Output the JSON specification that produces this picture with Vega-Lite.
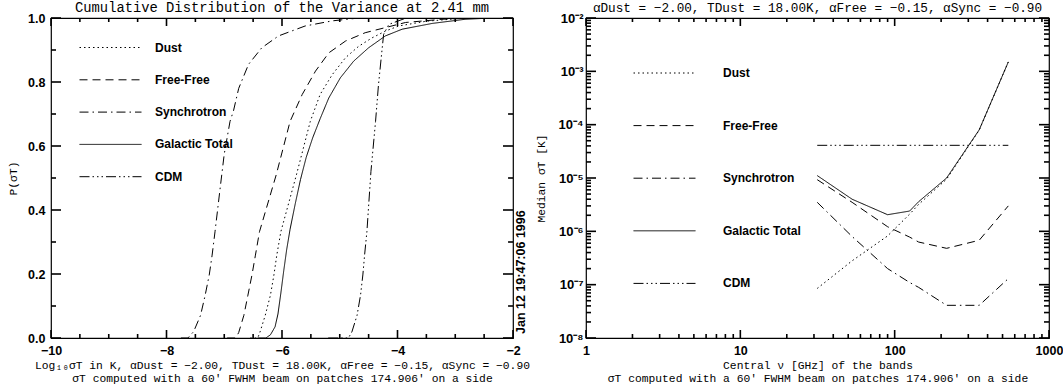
{
  "$schema": "https://vega.github.io/schema/vega-lite/v6.json",
  "padding": {"left": 7, "top": 0, "right": 0, "bottom": 0},
  "background": "white",
  "config": {
    "view": {"stroke": "black", "strokeWidth": 1.2},
    "axis": {
      "domain": false, "ticks": false, "labelColor": "black", "titleColor": "black", "grid": false,
      "labelFont": "Liberation Sans", "labelFontWeight": "bold", "labelFontSize": 12.5,
      "titleFont": "Liberation Mono", "titleFontWeight": "normal", "titleFontSize": 11.3, "titleLineHeight": 12.7
    },
    "title": {"font": "Liberation Mono", "fontWeight": "normal", "color": "black"},
    "rule": {"color": "black", "strokeWidth": 1.6}
  },
  "datasets": {
    "cdf": [
      {"series": "Synchrotron", "logsigma": -7.75, "p": 0},
      {"series": "Synchrotron", "logsigma": -7.63, "p": 0},
      {"series": "Synchrotron", "logsigma": -7.53, "p": 0.02},
      {"series": "Synchrotron", "logsigma": -7.41, "p": 0.071},
      {"series": "Synchrotron", "logsigma": -7.33, "p": 0.134},
      {"series": "Synchrotron", "logsigma": -7.26, "p": 0.197},
      {"series": "Synchrotron", "logsigma": -7.21, "p": 0.259},
      {"series": "Synchrotron", "logsigma": -7.16, "p": 0.332},
      {"series": "Synchrotron", "logsigma": -7.07, "p": 0.47},
      {"series": "Synchrotron", "logsigma": -7.0, "p": 0.575},
      {"series": "Synchrotron", "logsigma": -6.9, "p": 0.677},
      {"series": "Synchrotron", "logsigma": -6.84, "p": 0.71},
      {"series": "Synchrotron", "logsigma": -6.75, "p": 0.78},
      {"series": "Synchrotron", "logsigma": -6.58, "p": 0.855},
      {"series": "Synchrotron", "logsigma": -6.35, "p": 0.907},
      {"series": "Synchrotron", "logsigma": -6.06, "p": 0.944},
      {"series": "Synchrotron", "logsigma": -5.6, "p": 0.975},
      {"series": "Synchrotron", "logsigma": -5.13, "p": 0.991},
      {"series": "Synchrotron", "logsigma": -4.67, "p": 1.0},
      {"series": "Free-Free", "logsigma": -6.95, "p": 0},
      {"series": "Free-Free", "logsigma": -6.8, "p": 0},
      {"series": "Free-Free", "logsigma": -6.75, "p": 0.017},
      {"series": "Free-Free", "logsigma": -6.66, "p": 0.071},
      {"series": "Free-Free", "logsigma": -6.59, "p": 0.134},
      {"series": "Free-Free", "logsigma": -6.52, "p": 0.197},
      {"series": "Free-Free", "logsigma": -6.46, "p": 0.259},
      {"series": "Free-Free", "logsigma": -6.39, "p": 0.332},
      {"series": "Free-Free", "logsigma": -6.1, "p": 0.51},
      {"series": "Free-Free", "logsigma": -5.86, "p": 0.677},
      {"series": "Free-Free", "logsigma": -5.65, "p": 0.761},
      {"series": "Free-Free", "logsigma": -5.42, "p": 0.834},
      {"series": "Free-Free", "logsigma": -5.19, "p": 0.891},
      {"series": "Free-Free", "logsigma": -4.9, "p": 0.928},
      {"series": "Free-Free", "logsigma": -4.56, "p": 0.954},
      {"series": "Free-Free", "logsigma": -4.21, "p": 0.97},
      {"series": "Free-Free", "logsigma": -3.86, "p": 0.986},
      {"series": "Free-Free", "logsigma": -3.23, "p": 0.996},
      {"series": "Free-Free", "logsigma": -2.7, "p": 1.0},
      {"series": "Dust", "logsigma": -6.55, "p": 0},
      {"series": "Dust", "logsigma": -6.42, "p": 0},
      {"series": "Dust", "logsigma": -6.38, "p": 0.019},
      {"series": "Dust", "logsigma": -6.29, "p": 0.071},
      {"series": "Dust", "logsigma": -6.2, "p": 0.134},
      {"series": "Dust", "logsigma": -6.14, "p": 0.197},
      {"series": "Dust", "logsigma": -6.09, "p": 0.259},
      {"series": "Dust", "logsigma": -6.02, "p": 0.332},
      {"series": "Dust", "logsigma": -5.75, "p": 0.51},
      {"series": "Dust", "logsigma": -5.51, "p": 0.677},
      {"series": "Dust", "logsigma": -5.34, "p": 0.761},
      {"series": "Dust", "logsigma": -5.13, "p": 0.823},
      {"series": "Dust", "logsigma": -4.9, "p": 0.876},
      {"series": "Dust", "logsigma": -4.67, "p": 0.912},
      {"series": "Dust", "logsigma": -4.44, "p": 0.938},
      {"series": "Dust", "logsigma": -4.21, "p": 0.959},
      {"series": "Dust", "logsigma": -3.98, "p": 0.975},
      {"series": "Dust", "logsigma": -3.5, "p": 0.99},
      {"series": "Dust", "logsigma": -2.8, "p": 1.0},
      {"series": "Galactic Total", "logsigma": -6.42, "p": 0},
      {"series": "Galactic Total", "logsigma": -6.28, "p": 0},
      {"series": "Galactic Total", "logsigma": -6.2, "p": 0.01},
      {"series": "Galactic Total", "logsigma": -6.12, "p": 0.035},
      {"series": "Galactic Total", "logsigma": -6.07, "p": 0.075},
      {"series": "Galactic Total", "logsigma": -6.02, "p": 0.14},
      {"series": "Galactic Total", "logsigma": -5.97, "p": 0.21},
      {"series": "Galactic Total", "logsigma": -5.92, "p": 0.275},
      {"series": "Galactic Total", "logsigma": -5.86, "p": 0.34},
      {"series": "Galactic Total", "logsigma": -5.77, "p": 0.42},
      {"series": "Galactic Total", "logsigma": -5.68, "p": 0.495},
      {"series": "Galactic Total", "logsigma": -5.58, "p": 0.565},
      {"series": "Galactic Total", "logsigma": -5.47, "p": 0.625},
      {"series": "Galactic Total", "logsigma": -5.34, "p": 0.685},
      {"series": "Galactic Total", "logsigma": -5.19, "p": 0.75},
      {"series": "Galactic Total", "logsigma": -4.99, "p": 0.813},
      {"series": "Galactic Total", "logsigma": -4.76, "p": 0.865},
      {"series": "Galactic Total", "logsigma": -4.5, "p": 0.907},
      {"series": "Galactic Total", "logsigma": -4.21, "p": 0.944},
      {"series": "Galactic Total", "logsigma": -3.92, "p": 0.965},
      {"series": "Galactic Total", "logsigma": -3.4, "p": 0.983},
      {"series": "Galactic Total", "logsigma": -2.83, "p": 0.996},
      {"series": "Galactic Total", "logsigma": -2.36, "p": 1.0},
      {"series": "CDM", "logsigma": -5.2, "p": 0},
      {"series": "CDM", "logsigma": -4.85, "p": 0},
      {"series": "CDM", "logsigma": -4.79, "p": 0.019},
      {"series": "CDM", "logsigma": -4.7, "p": 0.071},
      {"series": "CDM", "logsigma": -4.64, "p": 0.134},
      {"series": "CDM", "logsigma": -4.6, "p": 0.197},
      {"series": "CDM", "logsigma": -4.57, "p": 0.259},
      {"series": "CDM", "logsigma": -4.53, "p": 0.332},
      {"series": "CDM", "logsigma": -4.46, "p": 0.52},
      {"series": "CDM", "logsigma": -4.38, "p": 0.677},
      {"series": "CDM", "logsigma": -4.33, "p": 0.79},
      {"series": "CDM", "logsigma": -4.27, "p": 0.897},
      {"series": "CDM", "logsigma": -4.24, "p": 0.949},
      {"series": "CDM", "logsigma": -4.15, "p": 0.98},
      {"series": "CDM", "logsigma": -3.85, "p": 1.0}
    ],
    "median": [
      {"series": "Dust", "nu": 31.5, "sigma": 8.5e-8},
      {"series": "Dust", "nu": 53, "sigma": 2.8e-7},
      {"series": "Dust", "nu": 90, "sigma": 8.2e-7},
      {"series": "Dust", "nu": 125, "sigma": 2.1e-6},
      {"series": "Dust", "nu": 143, "sigma": 3.2e-6},
      {"series": "Dust", "nu": 217, "sigma": 9.5e-6},
      {"series": "Dust", "nu": 353, "sigma": 7.9e-5},
      {"series": "Dust", "nu": 545, "sigma": 1.5e-3},
      {"series": "Free-Free", "nu": 31.5, "sigma": 9.3e-6},
      {"series": "Free-Free", "nu": 53, "sigma": 3.5e-6},
      {"series": "Free-Free", "nu": 90, "sigma": 1.22e-6},
      {"series": "Free-Free", "nu": 125, "sigma": 7.8e-7},
      {"series": "Free-Free", "nu": 143, "sigma": 6.3e-7},
      {"series": "Free-Free", "nu": 217, "sigma": 4.8e-7},
      {"series": "Free-Free", "nu": 353, "sigma": 6.8e-7},
      {"series": "Free-Free", "nu": 545, "sigma": 3.0e-6},
      {"series": "Synchrotron", "nu": 31.5, "sigma": 3.5e-6},
      {"series": "Synchrotron", "nu": 53, "sigma": 8.0e-7},
      {"series": "Synchrotron", "nu": 90, "sigma": 2.0e-7},
      {"series": "Synchrotron", "nu": 125, "sigma": 1.1e-7},
      {"series": "Synchrotron", "nu": 143, "sigma": 8.9e-8},
      {"series": "Synchrotron", "nu": 217, "sigma": 4.1e-8},
      {"series": "Synchrotron", "nu": 353, "sigma": 4.1e-8},
      {"series": "Synchrotron", "nu": 545, "sigma": 1.3e-7},
      {"series": "Galactic Total", "nu": 31.5, "sigma": 1.11e-5},
      {"series": "Galactic Total", "nu": 53, "sigma": 4.0e-6},
      {"series": "Galactic Total", "nu": 90, "sigma": 2.05e-6},
      {"series": "Galactic Total", "nu": 125, "sigma": 2.4e-6},
      {"series": "Galactic Total", "nu": 143, "sigma": 3.6e-6},
      {"series": "Galactic Total", "nu": 217, "sigma": 1.0e-5},
      {"series": "Galactic Total", "nu": 353, "sigma": 8.0e-5},
      {"series": "Galactic Total", "nu": 545, "sigma": 1.5e-3},
      {"series": "CDM", "nu": 31.5, "sigma": 4.1e-5},
      {"series": "CDM", "nu": 53, "sigma": 4.1e-5},
      {"series": "CDM", "nu": 90, "sigma": 4.1e-5},
      {"series": "CDM", "nu": 125, "sigma": 4.1e-5},
      {"series": "CDM", "nu": 143, "sigma": 4.1e-5},
      {"series": "CDM", "nu": 217, "sigma": 4.1e-5},
      {"series": "CDM", "nu": 353, "sigma": 4.1e-5},
      {"series": "CDM", "nu": 545, "sigma": 4.1e-5}
    ],
    "xticksL": [
      {"v": -10, "kind": "major"}, {"v": -9.5, "kind": "minor"}, {"v": -9, "kind": "minor"}, {"v": -8.5, "kind": "minor"},
      {"v": -8, "kind": "major"}, {"v": -7.5, "kind": "minor"}, {"v": -7, "kind": "minor"}, {"v": -6.5, "kind": "minor"},
      {"v": -6, "kind": "major"}, {"v": -5.5, "kind": "minor"}, {"v": -5, "kind": "minor"}, {"v": -4.5, "kind": "minor"},
      {"v": -4, "kind": "major"}, {"v": -3.5, "kind": "minor"}, {"v": -3, "kind": "minor"}, {"v": -2.5, "kind": "minor"},
      {"v": -2, "kind": "major"}
    ],
    "yticksL": [
      {"v": 0, "kind": "major"}, {"v": 0.1, "kind": "minor"}, {"v": 0.2, "kind": "major"}, {"v": 0.3, "kind": "minor"},
      {"v": 0.4, "kind": "major"}, {"v": 0.5, "kind": "minor"}, {"v": 0.6, "kind": "major"}, {"v": 0.7, "kind": "minor"},
      {"v": 0.8, "kind": "major"}, {"v": 0.9, "kind": "minor"}, {"v": 1.0, "kind": "major"}
    ],
    "xticksR": [
      {"v": 1, "kind": "major"}, {"v": 2, "kind": "minor"}, {"v": 3, "kind": "minor"}, {"v": 4, "kind": "minor"}, {"v": 5, "kind": "minor"},
      {"v": 6, "kind": "minor"}, {"v": 7, "kind": "minor"}, {"v": 8, "kind": "minor"}, {"v": 9, "kind": "minor"},
      {"v": 10, "kind": "major"}, {"v": 20, "kind": "minor"}, {"v": 30, "kind": "minor"}, {"v": 40, "kind": "minor"}, {"v": 50, "kind": "minor"},
      {"v": 60, "kind": "minor"}, {"v": 70, "kind": "minor"}, {"v": 80, "kind": "minor"}, {"v": 90, "kind": "minor"},
      {"v": 100, "kind": "major"}, {"v": 200, "kind": "minor"}, {"v": 300, "kind": "minor"}, {"v": 400, "kind": "minor"}, {"v": 500, "kind": "minor"},
      {"v": 600, "kind": "minor"}, {"v": 700, "kind": "minor"}, {"v": 800, "kind": "minor"}, {"v": 900, "kind": "minor"},
      {"v": 1000, "kind": "major"}
    ],
    "yticksR": [
      {"v": 1e-8, "kind": "major"}, {"v": 2e-8, "kind": "minor"}, {"v": 3e-8, "kind": "minor"}, {"v": 4e-8, "kind": "minor"}, {"v": 5e-8, "kind": "minor"}, {"v": 6e-8, "kind": "minor"}, {"v": 7e-8, "kind": "minor"}, {"v": 8e-8, "kind": "minor"}, {"v": 9e-8, "kind": "minor"},
      {"v": 1e-7, "kind": "major"}, {"v": 2e-7, "kind": "minor"}, {"v": 3e-7, "kind": "minor"}, {"v": 4e-7, "kind": "minor"}, {"v": 5e-7, "kind": "minor"}, {"v": 6e-7, "kind": "minor"}, {"v": 7e-7, "kind": "minor"}, {"v": 8e-7, "kind": "minor"}, {"v": 9e-7, "kind": "minor"},
      {"v": 1e-6, "kind": "major"}, {"v": 2e-6, "kind": "minor"}, {"v": 3e-6, "kind": "minor"}, {"v": 4e-6, "kind": "minor"}, {"v": 5e-6, "kind": "minor"}, {"v": 6e-6, "kind": "minor"}, {"v": 7e-6, "kind": "minor"}, {"v": 8e-6, "kind": "minor"}, {"v": 9e-6, "kind": "minor"},
      {"v": 1e-5, "kind": "major"}, {"v": 2e-5, "kind": "minor"}, {"v": 3e-5, "kind": "minor"}, {"v": 4e-5, "kind": "minor"}, {"v": 5e-5, "kind": "minor"}, {"v": 6e-5, "kind": "minor"}, {"v": 7e-5, "kind": "minor"}, {"v": 8e-5, "kind": "minor"}, {"v": 9e-5, "kind": "minor"},
      {"v": 1e-4, "kind": "major"}, {"v": 2e-4, "kind": "minor"}, {"v": 3e-4, "kind": "minor"}, {"v": 4e-4, "kind": "minor"}, {"v": 5e-4, "kind": "minor"}, {"v": 6e-4, "kind": "minor"}, {"v": 7e-4, "kind": "minor"}, {"v": 8e-4, "kind": "minor"}, {"v": 9e-4, "kind": "minor"},
      {"v": 1e-3, "kind": "major"}, {"v": 2e-3, "kind": "minor"}, {"v": 3e-3, "kind": "minor"}, {"v": 4e-3, "kind": "minor"}, {"v": 5e-3, "kind": "minor"}, {"v": 6e-3, "kind": "minor"}, {"v": 7e-3, "kind": "minor"}, {"v": 8e-3, "kind": "minor"}, {"v": 9e-3, "kind": "minor"},
      {"v": 1e-2, "kind": "major"}
    ]
  },
  "hconcat": [
    {
      "width": 462,
      "height": 320,
      "title": {"text": "Cumulative Distribution of the Variance at 2.41 mm", "fontSize": 13.8, "offset": -3},
      "layer": [
        {
          "data": {"name": "cdf"},
          "mark": {"type": "line", "color": "black", "strokeWidth": 1, "clip": true},
          "encoding": {
            "x": {
              "field": "logsigma", "type": "quantitative",
              "scale": {"domain": [-10, -2], "nice": false, "zero": false},
              "axis": {
                "orient": "bottom", "values": [-10, -8, -6, -4, -2], "format": "d",
                "labelPadding": 6, "labelFlush": false, "labelOverlap": false,
                "title": ["Log₁₀σT in K, αDust = −2.00, TDust = 18.00K, αFree = −0.15, αSync = −0.90", "σT computed with a 60′ FWHM beam on patches 174.906′ on a side"],
                "titlePadding": 3
              }
            },
            "y": {
              "field": "p", "type": "quantitative",
              "scale": {"domain": [0, 1], "nice": false},
              "axis": {
                "orient": "left", "values": [0, 0.2, 0.4, 0.6, 0.8, 1.0], "format": ".1f",
                "labelPadding": 6, "labelFlush": false, "labelOverlap": false,
                "title": "P(σT)", "titlePadding": 9
              }
            },
            "strokeDash": {
              "field": "series", "type": "nominal",
              "scale": {
                "domain": ["Dust", "Free-Free", "Synchrotron", "Galactic Total", "CDM"],
                "range": [[1.5, 3], [8, 5], [9, 4, 1.5, 4], [1, 0], [10, 3, 1.5, 3, 1.5, 3, 1.5, 3]]
              },
              "legend": {
                "orient": "none", "legendX": 43.5, "legendY": 13.5, "title": null,
                "symbolType": "M-2,0H2", "symbolSize": 961, "symbolStrokeWidth": 1, "symbolStrokeColor": "black",
                "labelFont": "Liberation Sans", "labelFontWeight": "bold", "labelFontSize": 12, "labelColor": "black",
                "labelOffset": 28.5, "rowPadding": 10.3
              }
            }
          }
        },
        {
          "data": {"values": [{}]},
          "mark": {"type": "text", "text": "Jan 12 19:47:06 1996", "angle": 270, "align": "left", "baseline": "top", "dx": 4, "dy": 2, "font": "Liberation Sans", "fontWeight": "bold", "fontSize": 12.5, "color": "black"},
          "encoding": {
            "x": {"datum": -2, "type": "quantitative", "axis": null},
            "y": {"datum": 0, "type": "quantitative", "axis": null}
          }
        },
        {
          "data": {"name": "xticksL"}, "transform": [{"filter": "datum.kind == 'major'"}],
          "mark": {"type": "rule", "y2Offset": -8},
          "encoding": {"x": {"field": "v", "type": "quantitative", "axis": null}, "y": {"datum": 0, "type": "quantitative", "axis": null}, "y2": {"datum": 0}}
        },
        {
          "data": {"name": "xticksL"}, "transform": [{"filter": "datum.kind == 'minor'"}],
          "mark": {"type": "rule", "y2Offset": -4},
          "encoding": {"x": {"field": "v", "type": "quantitative", "axis": null}, "y": {"datum": 0, "type": "quantitative", "axis": null}, "y2": {"datum": 0}}
        },
        {
          "data": {"name": "xticksL"}, "transform": [{"filter": "datum.kind == 'major'"}],
          "mark": {"type": "rule", "y2Offset": 8},
          "encoding": {"x": {"field": "v", "type": "quantitative", "axis": null}, "y": {"datum": 1, "type": "quantitative", "axis": null}, "y2": {"datum": 1}}
        },
        {
          "data": {"name": "xticksL"}, "transform": [{"filter": "datum.kind == 'minor'"}],
          "mark": {"type": "rule", "y2Offset": 4},
          "encoding": {"x": {"field": "v", "type": "quantitative", "axis": null}, "y": {"datum": 1, "type": "quantitative", "axis": null}, "y2": {"datum": 1}}
        },
        {
          "data": {"name": "yticksL"}, "transform": [{"filter": "datum.kind == 'major'"}],
          "mark": {"type": "rule", "x2Offset": 10},
          "encoding": {"y": {"field": "v", "type": "quantitative", "axis": null}, "x": {"datum": -10, "type": "quantitative", "axis": null}, "x2": {"datum": -10}}
        },
        {
          "data": {"name": "yticksL"}, "transform": [{"filter": "datum.kind == 'minor'"}],
          "mark": {"type": "rule", "x2Offset": 5},
          "encoding": {"y": {"field": "v", "type": "quantitative", "axis": null}, "x": {"datum": -10, "type": "quantitative", "axis": null}, "x2": {"datum": -10}}
        },
        {
          "data": {"name": "yticksL"}, "transform": [{"filter": "datum.kind == 'major'"}],
          "mark": {"type": "rule", "x2Offset": -10},
          "encoding": {"y": {"field": "v", "type": "quantitative", "axis": null}, "x": {"datum": -2, "type": "quantitative", "axis": null}, "x2": {"datum": -2}}
        },
        {
          "data": {"name": "yticksL"}, "transform": [{"filter": "datum.kind == 'minor'"}],
          "mark": {"type": "rule", "x2Offset": -5},
          "encoding": {"y": {"field": "v", "type": "quantitative", "axis": null}, "x": {"datum": -2, "type": "quantitative", "axis": null}, "x2": {"datum": -2}}
        }
      ],
      "resolve": {"axis": {"x": "independent", "y": "independent"}}
    },
    {
      "width": 463,
      "height": 320,
      "title": {"text": "αDust = −2.00, TDust = 18.00K, αFree = −0.15, αSync = −0.90", "fontSize": 12.7, "offset": -3},
      "layer": [
        {
          "data": {"name": "median"},
          "mark": {"type": "line", "color": "black", "strokeWidth": 1, "clip": true},
          "encoding": {
            "x": {
              "field": "nu", "type": "quantitative",
              "scale": {"type": "log", "domain": [1, 1000], "nice": false},
              "axis": {
                "orient": "bottom", "values": [1, 10, 100, 1000], "format": "d",
                "labelPadding": 6, "labelFlush": false, "labelOverlap": false,
                "title": ["Central ν [GHz] of the bands", "σT computed with a 60′ FWHM beam on patches 174.906′ on a side"],
                "titlePadding": 3
              }
            },
            "y": {
              "field": "sigma", "type": "quantitative",
              "scale": {"type": "log", "domain": [1e-8, 1e-2], "nice": false},
              "axis": {
                "orient": "left", "values": [1e-8, 1e-7, 1e-6, 1e-5, 1e-4, 1e-3, 1e-2],
                "labelExpr": "'10⁻' + ['⁰', '¹', '²', '³', '⁴', '⁵', '⁶', '⁷', '⁸'][round(-log(datum.value) / LN10)]",
                "labelPadding": 3, "labelFontSize": 13, "labelFlush": false, "labelOverlap": false,
                "title": "Median σT [K]", "titlePadding": 12
              }
            },
            "strokeDash": {
              "field": "series", "type": "nominal",
              "scale": {
                "domain": ["Dust", "Free-Free", "Synchrotron", "Galactic Total", "CDM"],
                "range": [[1.5, 3], [8, 5], [9, 4, 1.5, 4], [1, 0], [10, 3, 1.5, 3, 1.5, 3, 1.5, 3]]
              },
              "legend": {
                "orient": "none", "legendX": 62.5, "legendY": 39, "title": null,
                "symbolType": "M-2,0H2", "symbolSize": 961, "symbolStrokeWidth": 1, "symbolStrokeColor": "black",
                "labelFont": "Liberation Sans", "labelFontWeight": "bold", "labelFontSize": 12, "labelColor": "black",
                "labelOffset": 42.5, "rowPadding": 30.6
              }
            }
          }
        },
        {
          "data": {"name": "xticksR"}, "transform": [{"filter": "datum.kind == 'major'"}],
          "mark": {"type": "rule", "y2Offset": -8},
          "encoding": {"x": {"field": "v", "type": "quantitative", "axis": null}, "y": {"datum": 1e-8, "type": "quantitative", "axis": null}, "y2": {"datum": 1e-8}}
        },
        {
          "data": {"name": "xticksR"}, "transform": [{"filter": "datum.kind == 'minor'"}],
          "mark": {"type": "rule", "y2Offset": -4},
          "encoding": {"x": {"field": "v", "type": "quantitative", "axis": null}, "y": {"datum": 1e-8, "type": "quantitative", "axis": null}, "y2": {"datum": 1e-8}}
        },
        {
          "data": {"name": "xticksR"}, "transform": [{"filter": "datum.kind == 'major'"}],
          "mark": {"type": "rule", "y2Offset": 8},
          "encoding": {"x": {"field": "v", "type": "quantitative", "axis": null}, "y": {"datum": 1e-2, "type": "quantitative", "axis": null}, "y2": {"datum": 1e-2}}
        },
        {
          "data": {"name": "xticksR"}, "transform": [{"filter": "datum.kind == 'minor'"}],
          "mark": {"type": "rule", "y2Offset": 4},
          "encoding": {"x": {"field": "v", "type": "quantitative", "axis": null}, "y": {"datum": 1e-2, "type": "quantitative", "axis": null}, "y2": {"datum": 1e-2}}
        },
        {
          "data": {"name": "yticksR"}, "transform": [{"filter": "datum.kind == 'major'"}],
          "mark": {"type": "rule", "x2Offset": 10},
          "encoding": {"y": {"field": "v", "type": "quantitative", "axis": null}, "x": {"datum": 1, "type": "quantitative", "axis": null}, "x2": {"datum": 1}}
        },
        {
          "data": {"name": "yticksR"}, "transform": [{"filter": "datum.kind == 'minor'"}],
          "mark": {"type": "rule", "x2Offset": 5},
          "encoding": {"y": {"field": "v", "type": "quantitative", "axis": null}, "x": {"datum": 1, "type": "quantitative", "axis": null}, "x2": {"datum": 1}}
        },
        {
          "data": {"name": "yticksR"}, "transform": [{"filter": "datum.kind == 'major'"}],
          "mark": {"type": "rule", "x2Offset": -10},
          "encoding": {"y": {"field": "v", "type": "quantitative", "axis": null}, "x": {"datum": 1000, "type": "quantitative", "axis": null}, "x2": {"datum": 1000}}
        },
        {
          "data": {"name": "yticksR"}, "transform": [{"filter": "datum.kind == 'minor'"}],
          "mark": {"type": "rule", "x2Offset": -5},
          "encoding": {"y": {"field": "v", "type": "quantitative", "axis": null}, "x": {"datum": 1000, "type": "quantitative", "axis": null}, "x2": {"datum": 1000}}
        }
      ],
      "resolve": {"axis": {"x": "independent", "y": "independent"}}
    }
  ],
  "spacing": 3,
  "resolve": {"scale": {"strokeDash": "independent"}, "legend": {"strokeDash": "independent"}}
}
